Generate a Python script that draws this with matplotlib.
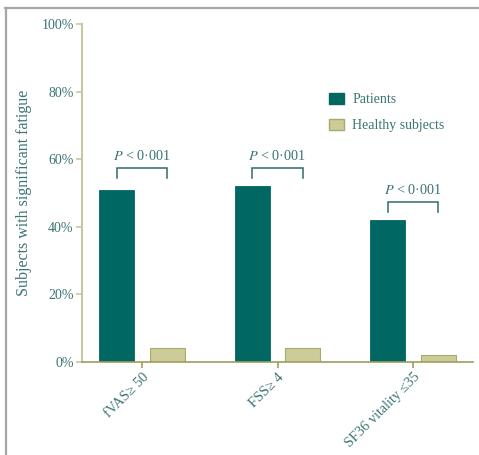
import matplotlib
matplotlib.use("Agg")
import matplotlib.pyplot as plt
from matplotlib.patches import Patch
from matplotlib.lines import Line2D
import numpy as np

categories = ["fVAS\u2265 50", "FSS\u2265 4", "SF36 vitality \u226435"]
patients = [51, 52, 42]
healthy = [4, 4, 2]
series_names = ["Patients", "Healthy subjects"]
p_labels = ["< 0\u00b7001", "< 0\u00b7001", "< 0\u00b7001"]
bracket_top = [57.3, 57.3, 47.3]
yticks = [0, 20, 40, 60, 80, 100]
ytick_labels = ["0%", "20%", "40%", "60%", "80%", "100%"]

plt.rcParams['font.family'] = ['Liberation Serif', 'DejaVu Serif']
plt.rcParams['mathtext.fontset'] = 'stix'

TEXT = "#3b7474"
PAT = "#006762"
HEA = "#cccc99"
HEA_EDGE = "#a8a872"
YSPINE = "#c9c6a4"
XSPINE = "#9e9e5a"
BRK = "#2f6a6a"

W, H = 479, 455
fig = plt.figure(figsize=(W/100, H/100), dpi=100)
ax = fig.add_axes([82/W, 1-362/H, (473-82)/W, (362-24)/H])

x = np.arange(len(categories))
bw = 0.258
off = 0.188
ax.bar(x - off, patients, bw, color=PAT, edgecolor=PAT, linewidth=0.6, zorder=2)
ax.bar(x + off, healthy, bw, color=HEA, edgecolor=HEA_EDGE, linewidth=0.8, zorder=2)

ax.set_xlim(-0.443, 2.443)
ax.set_ylim(0, 100)
ax.set_yticks(yticks)
ax.set_yticklabels(ytick_labels)
ax.set_xticks(x)
ax.set_xticklabels(categories, rotation=45, ha='right', rotation_mode='anchor')

for s in ['top', 'right']:
    ax.spines[s].set_visible(False)
ax.spines['left'].set_color(YSPINE)
ax.spines['left'].set_linewidth(1.5)
ax.spines['bottom'].set_color(XSPINE)
ax.spines['bottom'].set_linewidth(1.2)
ax.tick_params(axis='y', colors=YSPINE, labelcolor=TEXT, labelsize=10, length=4, width=1.2, pad=2)
ax.tick_params(axis='x', colors=XSPINE, labelcolor=TEXT, labelsize=10.3, length=4, width=1.2, pad=2)

ax.set_ylabel("Subjects with significant fatigue", color=TEXT, fontsize=11.5, labelpad=7)

for i in range(len(categories)):
    x0, x1 = x[i] - off, x[i] + off
    yt = bracket_top[i]
    ax.plot([x0, x0, x1, x1], [yt - 3, yt, yt, yt - 3], color=BRK, lw=1.1,
            solid_joinstyle='miter', zorder=3)
    ax.text(x[i], yt + 1.6, "$P$ " + p_labels[i], ha='center', va='bottom',
            color=TEXT, fontsize=10.3)

handles = [Patch(facecolor=PAT, edgecolor=PAT),
           Patch(facecolor=HEA, edgecolor=HEA_EDGE)]
leg = ax.legend(handles, series_names, loc='upper left',
                bbox_to_anchor=((329-82)/391, (362-93)/338),
                frameon=False, fontsize=10, borderpad=0, borderaxespad=0,
                handlelength=1.08, handleheight=0.8, handletextpad=0.58,
                labelspacing=0.95)
for t in leg.get_texts():
    t.set_color(TEXT)

fig.add_artist(Line2D([5.5/W, 5.5/W], [0, 1-8/H], color="#a6a6a6", lw=1.6))
fig.add_artist(Line2D([5/W, 1], [1-8/H, 1-8/H], color="#a6a6a6", lw=1.6))

fig.savefig("out.png", dpi=100)
